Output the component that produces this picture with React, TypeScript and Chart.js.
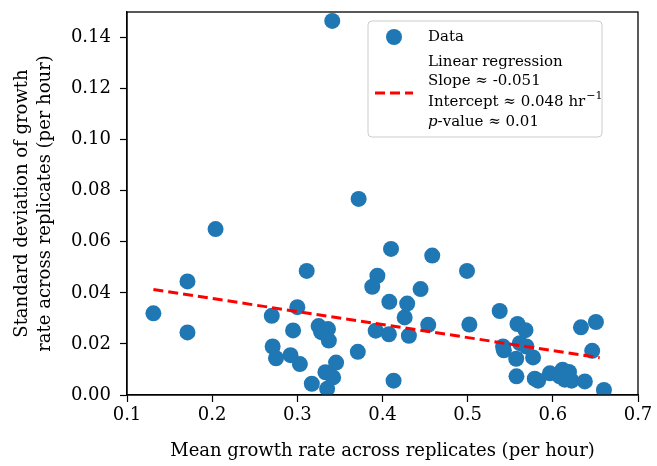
import React, { useEffect, useRef } from "react";
import { Chart, registerables } from "chart.js";

Chart.register(...registerables);

// ---- Data ----
const meanGrowth = [
  0.131, 0.171, 0.171, 0.204, 0.27, 0.271, 0.275, 0.292, 0.295, 0.3, 0.303, 0.311,
  0.317, 0.325, 0.328, 0.336, 0.337, 0.333, 0.342, 0.335, 0.3455, 0.341, 0.372, 0.371,
  0.388, 0.394, 0.392, 0.41, 0.408, 0.4075, 0.413, 0.426, 0.429, 0.431, 0.4447, 0.4537,
  0.4584, 0.4992, 0.502, 0.5376, 0.5415, 0.5425, 0.5585, 0.5679, 0.5612, 0.569, 0.557,
  0.5768, 0.5573, 0.5788, 0.5827, 0.5965, 0.6114, 0.619, 0.614, 0.622, 0.608, 0.6376,
  0.66, 0.633, 0.6506, 0.6462,
];
const sdGrowth = [
  0.032, 0.0445, 0.0245, 0.065, 0.031, 0.019, 0.0144, 0.0156, 0.0253, 0.0344, 0.0121, 0.0486,
  0.0044, 0.027, 0.0246, 0.0258, 0.0213, 0.0089, 0.0069, 0.0024, 0.0127, 0.1465, 0.0768, 0.0169,
  0.0424, 0.0467, 0.0252, 0.0572, 0.0365, 0.0238, 0.0056, 0.0304, 0.0358, 0.0232, 0.0415, 0.0275,
  0.0546, 0.0486, 0.0276, 0.0329, 0.019, 0.0175, 0.0278, 0.0254, 0.0203, 0.019, 0.0142,
  0.0147, 0.0073, 0.0064, 0.0056, 0.0085, 0.0099, 0.009, 0.006, 0.0056, 0.0073, 0.0053,
  0.002, 0.0265, 0.0286, 0.0173,
];
const xTicks = [0.1, 0.2, 0.3, 0.4, 0.5, 0.6, 0.7];
const yTicks = [0, 0.02, 0.04, 0.06, 0.08, 0.1, 0.12, 0.14];
const slope = -0.051;
const intercept = 0.048;
const fitXRange = [0.131, 0.655];

const xTitle = "Mean growth rate across replicates (per hour)";
const yTitleLines = ["Standard deviation of growth", "rate across replicates (per hour)"];
const legendData = "Data";
const legendFitLines = ["Linear regression", "Slope \u2248 -0.051", "Intercept \u2248 0.048 hr", "-value \u2248 0.01"];

const FONT = "DejaVu Serif";
const BLUE = "#1f77b4";
const RED = "#ff0000";

const overlayPlugin = {
  id: "overlay",
  afterDraw(chart: any) {
    const ctx = chart.ctx as CanvasRenderingContext2D;
    const a = chart.chartArea;
    ctx.save();
    // frame
    ctx.strokeStyle = "#000";
    ctx.lineWidth = 1.3;
    ctx.strokeRect(a.left, a.top, a.right - a.left, a.bottom - a.top);

    // axis titles
    ctx.fillStyle = "#000";
    ctx.font = `18px "${FONT}"`;
    ctx.textAlign = "center";
    ctx.textBaseline = "middle";
    ctx.fillText(xTitle, (a.left + a.right) / 2, 451);
    ctx.save();
    ctx.translate(22, (a.top + a.bottom) / 2);
    ctx.rotate(-Math.PI / 2);
    ctx.fillText(yTitleLines[0], 0, 0);
    ctx.restore();
    ctx.save();
    ctx.translate(45, (a.top + a.bottom) / 2);
    ctx.rotate(-Math.PI / 2);
    ctx.fillText(yTitleLines[1], 0, 0);
    ctx.restore();

    // legend box
    const bx = 368, by = 21, bw = 234, bh = 116, r = 4;
    ctx.beginPath();
    ctx.moveTo(bx + r, by);
    ctx.arcTo(bx + bw, by, bx + bw, by + bh, r);
    ctx.arcTo(bx + bw, by + bh, bx, by + bh, r);
    ctx.arcTo(bx, by + bh, bx, by, r);
    ctx.arcTo(bx, by, bx + bw, by, r);
    ctx.closePath();
    ctx.fillStyle = "rgba(255,255,255,0.8)";
    ctx.fill();
    ctx.strokeStyle = "#cccccc";
    ctx.lineWidth = 1;
    ctx.stroke();

    // marker
    ctx.fillStyle = BLUE;
    ctx.beginPath();
    ctx.arc(394, 37, 8, 0, Math.PI * 2);
    ctx.fill();
    // dashed line
    ctx.strokeStyle = RED;
    ctx.lineWidth = 3;
    ctx.setLineDash([10, 5]);
    ctx.beginPath();
    ctx.moveTo(375, 93);
    ctx.lineTo(413, 93);
    ctx.stroke();
    ctx.setLineDash([]);

    // text
    ctx.fillStyle = "#000";
    ctx.textAlign = "left";
    ctx.textBaseline = "middle";
    ctx.font = `15px "${FONT}"`;
    const tx = 428;
    ctx.fillText(legendData, tx, 37);
    ctx.fillText(legendFitLines[0], tx, 62);
    ctx.fillText(legendFitLines[1], tx, 81);
    ctx.fillText(legendFitLines[2], tx, 102);
    const w2 = ctx.measureText(legendFitLines[2]).width;
    ctx.font = `11px "${FONT}"`;
    ctx.fillText("\u22121", tx + w2 + 1, 96);
    ctx.font = `italic 15px "${FONT}"`;
    ctx.fillText("p", tx, 122);
    const wp = ctx.measureText("p").width;
    ctx.font = `15px "${FONT}"`;
    ctx.fillText(legendFitLines[3], tx + wp, 122);
    ctx.restore();
  },
};

export default function App() {
  const ref = useRef<HTMLCanvasElement>(null);
  useEffect(() => {
    if (!ref.current) return;
    const points = meanGrowth.map((x, i) => ({ x, y: sdGrowth[i] }));
    const fit = fitXRange.map((x) => ({ x, y: intercept + slope * x }));
    const chart = new Chart(ref.current, {
      type: "scatter",
      data: {
        datasets: [
          {
            type: "line",
            label: "Linear regression",
            data: fit,
            borderColor: RED,
            borderWidth: 3,
            borderDash: [10, 5],
            pointRadius: 0,
            fill: false,
            order: 0,
          } as any,
          {
            label: "Data",
            data: points,
            backgroundColor: BLUE,
            borderWidth: 0,
            pointRadius: 8,
            pointHoverRadius: 8,
            order: 1,
          },
        ],
      },
      options: {
        animation: false,
        responsive: false,
        events: [],
        layout: { padding: { top: 12, right: 19, left: 0, bottom: 0 } },
        plugins: { legend: { display: false }, tooltip: { enabled: false } },
        scales: {
          x: {
            type: "linear",
            min: 0.1,
            max: 0.7,
            afterBuildTicks: (s: any) => {
              s.ticks = xTicks.map((v) => ({ value: v }));
            },
            afterFit: (s: any) => {
              s.height = 71;
              s.paddingLeft = 0;
              s.paddingRight = 0;
            },
            ticks: {
              callback: (v: any) => Number(v).toFixed(1),
              font: { family: FONT, size: 18 },
              color: "#000",
              padding: 3,
              maxRotation: 0,
            },
            grid: { drawOnChartArea: false, tickLength: 7, tickColor: "#000", tickWidth: 1.2 },
            border: { color: "#000", width: 1.3 },
          },
          y: {
            type: "linear",
            min: 0,
            max: 0.15,
            afterBuildTicks: (s: any) => {
              s.ticks = yTicks.map((v) => ({ value: v }));
            },
            afterFit: (s: any) => {
              s.width = 127;
              s.paddingTop = 0;
              s.paddingBottom = 0;
            },
            ticks: {
              callback: (v: any) => Number(v).toFixed(2),
              font: { family: FONT, size: 18 },
              color: "#000",
              padding: 9,
            },
            grid: { drawOnChartArea: false, tickLength: 7, tickColor: "#000", tickWidth: 1.2 },
            border: { color: "#000", width: 1.3 },
          },
        },
      },
      plugins: [overlayPlugin],
    });
    return () => chart.destroy();
  }, []);
  return (
    <div style={{ position: "absolute", left: 0, top: 0, width: 657, height: 466, background: "#fff" }}>
      <canvas ref={ref} width={657} height={466} style={{ display: "block" }} />
    </div>
  );
}
